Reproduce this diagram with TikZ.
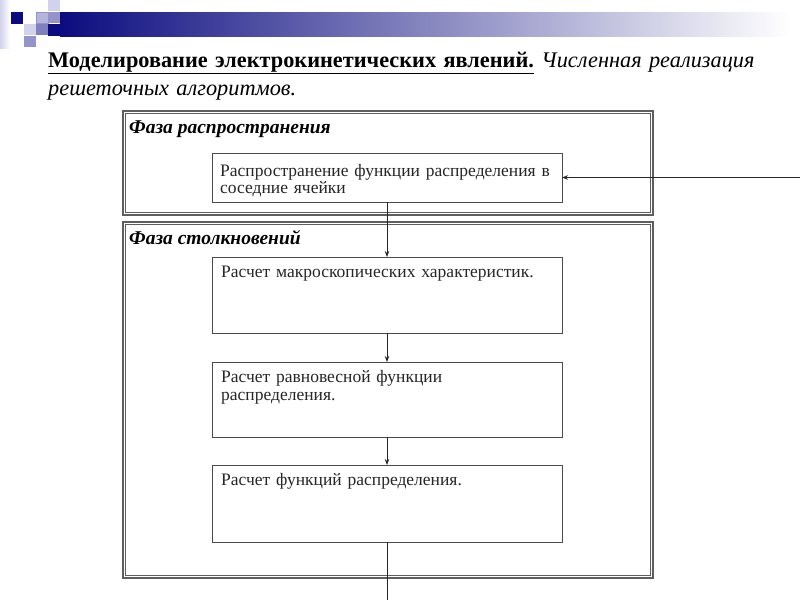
\documentclass[tikz,border=0pt]{standalone}
\usepackage{fontspec}
\setmainfont{Liberation Serif}
\usetikzlibrary{arrows.meta,calc}
\definecolor{navy}{HTML}{0C0C80}
\definecolor{lavA}{HTML}{D2D2EC}
\definecolor{lavB}{HTML}{B4B4DC}
\definecolor{lavC}{HTML}{9494CA}
\definecolor{framegray}{HTML}{5E5E5E}
\definecolor{linegray}{HTML}{4A4A4A}
\begin{document}
\begin{tikzpicture}[x=1pt,y=-1pt,
  phaseframe/.style={draw=framegray, line width=2pt, anchor=north west, inner sep=0pt, outer sep=0pt},
  phaseinner/.style={draw=framegray, line width=0.7pt},
  phaselbl/.style={font=\fontsize{19.5}{22}\selectfont\bfseries\itshape, anchor=base west, inner sep=0pt},
  stepbox/.style={draw=linegray, line width=0.9pt, minimum width=350pt, anchor=north west, inner sep=0pt, outer sep=0pt},
  boxtxt/.style={font=\fontsize{17.5}{17.5}\selectfont, color=black!85, anchor=base west, inner sep=0pt, text width=345pt, align=left},
  conn/.style={draw=black!85, line width=1pt},
  arr/.style={conn, -{Stealth[length=6pt,width=4.5pt]}}
]
\useasboundingbox (0,0) rectangle (800,600);
\fill[white] (0,0) rectangle (800,600);
% decoration
\shade[left color=lavA, right color=white] (0,0) rectangle (10,48);
\fill[navy] (60,12) rectangle (200,36);
\shade[left color=navy, right color=white] (60,12) rectangle (790,36);
\fill[navy] (48,24) rectangle (60,36);
\fill[navy] (11,12) rectangle (23,24);
\fill[lavA] (48,0) rectangle (60,11);
\fill[lavB] (36,12) rectangle (48,23);
\draw[lavC, line width=0.5pt] (36,12) rectangle (48,23);
\fill[lavC] (48,12) rectangle (60,23);
\fill[lavA] (24,24) rectangle (36,35);
\fill[lavC!85!navy] (36,24) rectangle (48,35);
\fill[lavC] (24,36) rectangle (36,47);
% title
\node[anchor=base west, inner sep=0pt, font=\fontsize{22.3}{28}\selectfont, text width=740pt, align=left] (title) at (48,67)
  {{\bfseries\underline{Моделирование электрокинетических явлений.}} \textit{Численная реализация}\\\textit{решеточных алгоритмов.}};
% phases
\node[phaseframe, minimum width=530pt, minimum height=104pt] (p1) at (122.5,110.5) {};
\draw[phaseinner] ($(p1.north west)+(2.6,2.6)$) rectangle ($(p1.south east)+(-2.6,-2.6)$);
\node[phaselbl] (l1) at (129,133) {Фаза распространения};
\node[phaseframe, minimum width=530pt, minimum height=356pt] (p2) at (122.5,221.5) {};
\draw[phaseinner] ($(p2.north west)+(2.6,2.6)$) rectangle ($(p2.south east)+(-2.6,-2.6)$);
\node[phaselbl] (l2) at (129,244) {Фаза столкновений};
% steps
\node[stepbox, minimum height=49pt] (a) at (212,153) {};
\node[boxtxt] (ta) at ($(a.north west)+(8,23)$) {Распространение функции распределения в\\соседние ячейки};
\node[stepbox, minimum height=76pt] (b) at (212,257) {};
\node[boxtxt] (tb) at ($(b.north west)+(9,20)$) {Расчет макроскопических характеристик.};
\node[stepbox, minimum height=75pt] (c) at (212,362) {};
\node[boxtxt] (tc) at ($(c.north west)+(9,20)$) {Расчет равновесной функции\\[0.5pt]распределения.};
\node[stepbox, minimum height=77pt] (d) at (212,465) {};
\node[boxtxt] (td) at ($(d.north west)+(9,20)$) {Расчет функций распределения.};
% connectors
\coordinate (in) at (800,177.5);
\coordinate (out) at (387,600);
\draw[arr] (in) -- (a.east);
\draw[arr] (a.south) -- (b.north);
\draw[arr] (b.south) -- (c.north);
\draw[arr] (c.south) -- (d.north);
\draw[conn] (d.south) -- (out);
\end{tikzpicture}
\end{document}
